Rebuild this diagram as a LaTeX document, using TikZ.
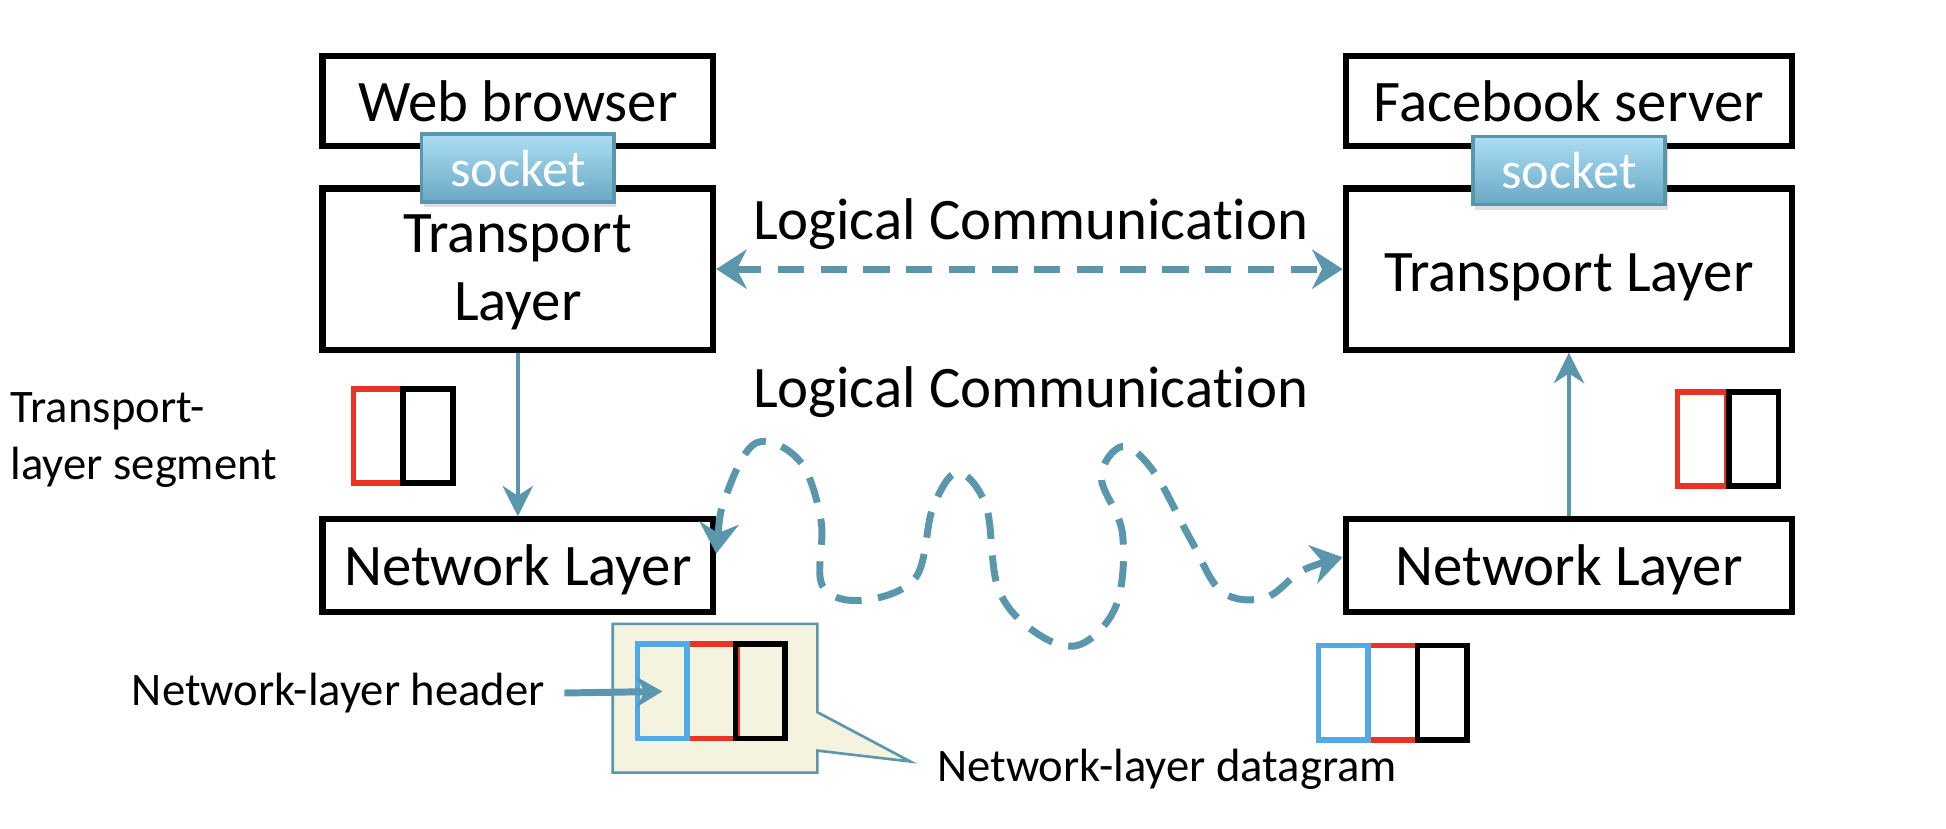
\documentclass[tikz,border=0pt]{standalone}
\usepackage{fontspec}
\setmainfont{Carlito}[Ligatures=NoCommon]
\usetikzlibrary{arrows.meta,shapes.callouts,shadows}
\definecolor{linkblue}{RGB}{90,150,172}
\definecolor{segred}{RGB}{234,51,35}
\definecolor{hdrblue}{RGB}{80,170,230}
\definecolor{notebg}{RGB}{243,243,224}
\newcommand{\bigtxt}{\fontsize{13.5}{15.6}\selectfont}
\newcommand{\smalltxt}{\fontsize{10.7}{13}\selectfont}

\begin{document}
\begin{tikzpicture}[
	layerbox/.style={draw=black, line width=1.4pt, fill=white, minimum height=#1},
	sockbox/.style={draw=linkblue, line width=0.8pt, top color={rgb,255:red,172;green,222;blue,245}, bottom color={rgb,255:red,105;green,168;blue,195}, minimum width=1.55cm, minimum height=0.55cm, text=white, font=\fontsize{12}{13}\selectfont, drop shadow={opacity=0.25, shadow xshift=0.02cm, shadow yshift=-0.04cm}},
	pkt/.style={draw=#1, line width=1.3pt, minimum width=0.40cm, minimum height=0.76cm, inner sep=0pt},
	logarrow/.style={draw=linkblue, line width=1.6pt, dash pattern=on 6pt off 3.8pt, {Stealth[length=7pt,width=9pt]}-{Stealth[length=7pt,width=9pt]}},
	downarrow/.style={draw=linkblue, line width=0.9pt, -{Stealth[length=7pt,width=7pt]}},
	hdrarrow/.style={draw=linkblue, line width=1.6pt, -{Stealth[length=6pt,width=7pt]}}
	]
	\useasboundingbox (0,0) rectangle (15.69,-6.68);
	\node (web) [layerbox=0.73cm, minimum width=3.15cm, font=\bigtxt] at (4.175,-0.815) {Web browser};
	\node (trL) [layerbox=1.30cm, minimum width=3.15cm, font=\bigtxt, align=center, text depth=0.5pt] at (4.175,-2.17) {Transport\\Layer};
	\node (netL) [layerbox=0.72cm, minimum width=3.15cm, font=\bigtxt, text height=11.8pt, text depth=2.7pt] at (4.175,-4.56) {Network Layer};
	\node (sockL) [sockbox] at (4.175,-1.355) {socket};
	\node (fb) [layerbox=0.73cm, minimum width=3.6cm, font=\bigtxt] at (12.65,-0.815) {Facebook server};
	\node (trR) [layerbox=1.30cm, minimum width=3.6cm, font=\bigtxt, text height=13pt, text depth=2.7pt] at (12.65,-2.17) {Transport Layer};
	\node (netR) [layerbox=0.72cm, minimum width=3.6cm, font=\bigtxt, text height=11.8pt, text depth=2.7pt] at (12.65,-4.56) {Network Layer};
	\node (sockR) [sockbox] at (12.65,-1.375) {socket};
	\node (lc1) [font=\bigtxt] at (8.31,-1.81) {Logical Communication};
	\node (lc2) [font=\bigtxt] at (8.31,-3.16) {Logical Communication};
	\draw[logarrow] (trL.east) -- (trR.west);
	\draw[downarrow] (trL.south) -- (netL.north);
	\draw[downarrow] (netR.north) -- (trR.south);
	\node (segtxt) [font=\smalltxt, align=left, anchor=west, inner sep=0pt] at (0.08,-3.55) {Transport-\\layer segment};
	\node (segLr) [pkt=segred] at (3.05,-3.515) {};
	\node (segLb) [pkt=black] at (3.45,-3.515) {};
	\node (segRr) [pkt=segred] at (13.725,-3.54) {};
	\node (segRb) [pkt=black] at (14.14,-3.54) {};
	\coordinate (wigA) at ([yshift=-0.3cm]netL.north east);
	\coordinate (wigB) at ([yshift=-0.33cm]netR.north west);
	\draw[logarrow] plot[smooth, tension=0.6] coordinates {(wigA) (5.86,-3.98) (6.10,-3.57) (6.45,-3.72) (6.62,-4.20) (6.63,-4.72) (6.95,-4.84) (7.38,-4.66) (7.52,-4.10) (7.72,-3.81) (7.95,-4.08) (8.05,-4.75) (8.35,-5.10) (8.70,-5.20) (9.00,-4.88) (9.05,-4.30) (8.88,-3.85) (9.05,-3.60) (9.30,-3.80) (9.60,-4.35) (9.85,-4.77) (10.20,-4.82) (10.50,-4.60) (wigB)};
	\node (dgtxt) [font=\smalltxt, anchor=west, inner sep=0pt] at (7.55,-6.2) {Network-layer datagram};
	\node (dgbox) [rectangle callout, draw=linkblue, line width=0.6pt, fill=notebg, minimum width=1.65cm, minimum height=1.2cm, callout absolute pointer={(7.34,-6.14)}, callout pointer width=0.31cm] at (5.765,-5.63) {};
	\node (dgLr) [pkt=segred] at (5.74,-5.575) {};
	\node (dgLh) [pkt=hdrblue] at (5.34,-5.575) {};
	\node (dgLb) [pkt=black] at (6.13,-5.575) {};
	\node (dgRr) [pkt=segred] at (11.23,-5.585) {};
	\node (dgRh) [pkt=hdrblue] at (10.83,-5.585) {};
	\node (dgRb) [pkt=black] at (11.63,-5.585) {};
	\node (hdrtxt) [font=\smalltxt, anchor=east, inner sep=0pt] at (4.40,-5.59) {Network-layer header};
	\draw[hdrarrow, shorten <=0.15cm] (hdrtxt.east) -- (dgLh.center);
\end{tikzpicture}
\end{document}
